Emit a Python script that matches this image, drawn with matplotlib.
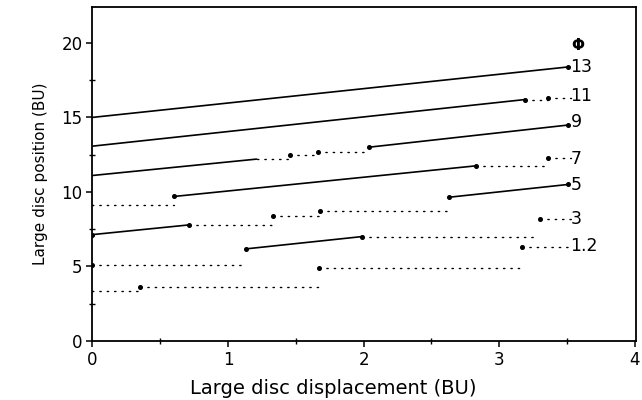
import matplotlib
matplotlib.use('Agg')
import matplotlib.pyplot as plt
from matplotlib.ticker import MultipleLocator

# Each trajectory: solid (moving) pieces, dotted (held) pieces, and the dots
# solid: (x0, y0, x1, y1)   dotted: (x0, x1, y)   dots: (x, y)
phi13_solid = [(0.0, 15.0, 3.51, 18.39)]
phi13_dotted = []
phi13_dots = [(3.51, 18.39)]

phi11_solid = [(0.0, 13.07, 3.19, 16.2)]
phi11_dotted = [(3.19, 3.36, 16.2), (3.36, 3.53, 16.32)]
phi11_dots = [(3.19, 16.2), (3.36, 16.32)]

phi9_solid = [(0.0, 11.1, 1.21, 12.2), (2.04, 13.0, 3.51, 14.49)]
phi9_dotted = [(1.21, 1.46, 12.2), (1.46, 1.66, 12.48), (1.66, 2.04, 12.67)]
phi9_dots = [(1.46, 12.48), (1.66, 12.67), (2.04, 13.0), (3.51, 14.49)]

phi7_solid = [(0.60, 9.69, 2.83, 11.75)]
phi7_dotted = [(0.0, 0.6, 9.15), (2.83, 3.36, 11.75), (3.36, 3.53, 12.25)]
phi7_dots = [(0.60, 9.69), (2.83, 11.75), (3.36, 12.25)]

phi5_solid = [(0.0, 7.13, 0.71, 7.78), (2.63, 9.64, 3.51, 10.5)]
phi5_dotted = [(0.71, 1.33, 7.78), (1.33, 1.68, 8.39), (1.68, 2.62, 8.7)]
phi5_dots = [(0.0, 7.13), (0.71, 7.78), (1.33, 8.39), (1.68, 8.7), (2.63, 9.64), (3.51, 10.5)]

phi3_solid = [(1.13, 6.17, 1.99, 7.0)]
phi3_dotted = [(0.0, 1.12, 5.09), (1.99, 3.27, 7.0), (3.30, 3.53, 8.2)]
phi3_dots = [(0.0, 5.09), (1.13, 6.17), (1.99, 7.0), (3.30, 8.2)]

phi12_solid = []
phi12_dotted = [(0.0, 0.35, 3.36), (0.35, 1.67, 3.63), (1.67, 3.17, 4.87), (3.17, 3.53, 6.3)]
phi12_dots = [(0.35, 3.63), (1.67, 4.87), (3.17, 6.3)]

phi_labels = ['13', '11', '9', '7', '5', '3', '1.2']
label_y = [18.38, 16.42, 14.72, 12.22, 10.45, 8.15, 6.35]

series = [
    (phi13_solid, phi13_dotted, phi13_dots),
    (phi11_solid, phi11_dotted, phi11_dots),
    (phi9_solid, phi9_dotted, phi9_dots),
    (phi7_solid, phi7_dotted, phi7_dots),
    (phi5_solid, phi5_dotted, phi5_dots),
    (phi3_solid, phi3_dotted, phi3_dots),
    (phi12_solid, phi12_dotted, phi12_dots),
]

plt.rcParams['font.family'] = 'DejaVu Sans'

fig = plt.figure(figsize=(6.42, 4.0), dpi=100)
ax = fig.add_axes([0.144, 0.148, 0.847, 0.834])

for solid, dotted, dots in series:
    for x0, y0, x1, y1 in solid:
        ax.plot([x0, x1], [y0, y1], color='black', lw=1.2, solid_capstyle='round')
    for x0, x1, y in dotted:
        ax.plot([x0, x1], [y, y], color='black', lw=1.0, linestyle=(0, (1, 4.3)),
                dash_capstyle='round')
    for x, y in dots:
        ax.plot(x, y, 'o', color='black', markersize=2.6)

for lab, y in zip(phi_labels, label_y):
    ax.text(3.525, y, lab, fontsize=12.5, ha='left', va='center')
ax.text(3.58, 19.8, '\u03a6', fontsize=11, ha='center', va='center', fontweight='bold')

ax.set_xlim(0, 4.01)
ax.set_ylim(0, 22.4)
ax.xaxis.set_major_locator(MultipleLocator(1))
ax.xaxis.set_minor_locator(MultipleLocator(0.5))
ax.yaxis.set_major_locator(MultipleLocator(5))
ax.yaxis.set_minor_locator(MultipleLocator(2.5))
ax.tick_params(which='major', direction='out', length=4, width=1.1, labelsize=12, pad=3)
ax.tick_params(which='minor', direction='inout', length=4, width=1.0)
for sp in ax.spines.values():
    sp.set_linewidth(1.3)

ax.set_xlabel('Large disc displacement (BU)', fontsize=14)
ax.xaxis.set_label_coords(0.443, -0.115)
ax.set_ylabel('Large disc position (BU)', fontsize=11, labelpad=10)

fig.savefig('out.png', dpi=100)
